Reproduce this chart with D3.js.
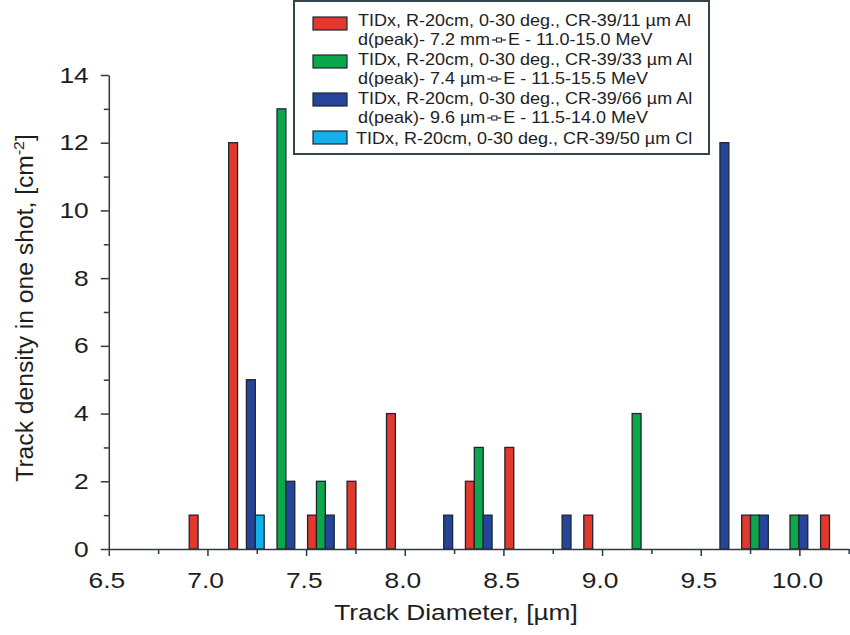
<!DOCTYPE html>
<html>
<head>
<meta charset="utf-8">
<script src="https://cdn.jsdelivr.net/npm/d3@7"></script>
<style>
  body { margin: 0; background: #fff; }
  svg { display: block; font-family: 'Liberation Sans', Arial, sans-serif; }
</style>
</head>
<body>
<div id="chart"></div>
<script>
// Track diameter bins (left edge of each 0.2 µm group)
const bins = [6.9, 7.1, 7.3, 7.5, 7.7, 7.9, 8.1, 8.3, 8.5, 8.7, 8.9, 9.1, 9.3, 9.5, 9.7, 9.9, 10.1]

// Track density per bin, one array per detector
const al11 = [1, 12, 0, 1, 2, 4, 0, 2, 3, 0, 1, 0, 0, 0, 1, 0, 1]
const al33 = [0, 0, 13, 2, 0, 0, 0, 3, 0, 0, 0, 4, 0, 0, 1, 1, 0]
const al66 = [0, 5, 2, 1, 0, 0, 1, 1, 0, 1, 0, 0, 0, 12, 1, 1, 0]
const cl50 = [0, 1, 0, 0, 0, 0, 0, 0, 0, 0, 0, 0, 0, 0, 0, 0, 0]

const seriesKeys = ['al11', 'al33', 'al66', 'cl50']
const seriesValues = [al11, al33, al66, cl50]
const seriesColors = ['#e2392c', '#0aa74b', '#26449b', '#12b0ea']
const seriesLine1 = [
  'TIDx, R-20cm, 0-30 deg., CR-39/11 µm Al',
  'TIDx, R-20cm, 0-30 deg., CR-39/33 µm Al',
  'TIDx, R-20cm, 0-30 deg., CR-39/66 µm Al',
  'TIDx, R-20cm, 0-30 deg., CR-39/50 µm Cl'
]
const seriesLine2a = ['d(peak)- 7.2 mm', 'd(peak)- 7.4 µm', 'd(peak)- 9.6 µm', null]
const seriesLine2b = ['E - 11.0-15.0 MeV', 'E - 11.5-15.5 MeV', 'E - 11.5-14.0 MeV', null]

const xTicks = [6.5, 7.0, 7.5, 8.0, 8.5, 9.0, 9.5, 10.0]
const xMinor = [6.75, 7.25, 7.75, 8.25, 8.75, 9.25, 9.75, 10.25]
const yTicks = [0, 2, 4, 6, 8, 10, 12, 14]
const yMinor = [1, 3, 5, 7, 9, 11, 13]

const W = 850, H = 635
const axisColor = '#2b3940'
const textColor = '#1e1e1e'
const stretch = 1.2   // the original lettering is set wide

const svg = d3.select('#chart').append('svg')
  .attr('width', W).attr('height', H)

const x = d3.scaleLinear().domain([6.5, 10.25]).range([108.8, 848.7])
const y = d3.scaleLinear().domain([0, 14]).range([549, 75])

// bars sit side by side inside each 0.2 µm group
const groupOffset = 0.0075, barWidth = 0.045
const sub = d3.scaleBand().domain(seriesKeys)
  .range([0, barWidth * seriesKeys.length])

const bars = []
seriesKeys.forEach((k, si) => {
  seriesValues[si].forEach((v, bi) => {
    if (v > 0) bars.push({ key: k, color: seriesColors[si], bin: bins[bi], v })
  })
})

const left = d => d.bin + groupOffset + sub(d.key)

svg.append('g').selectAll('rect').data(bars).join('rect')
  .attr('x', d => x(left(d)))
  .attr('width', d => x(left(d) + sub.bandwidth()) - x(left(d)))
  .attr('y', d => y(d.v))
  .attr('height', d => y(0) - y(d.v))
  .attr('fill', d => d.color)
  .attr('stroke', '#1b2630')
  .attr('stroke-width', 1.3)

// x axis
const gx = svg.append('g').attr('transform', `translate(0,${y(0)})`)
gx.call(d3.axisBottom(x).tickValues(xTicks).tickFormat(d3.format('.1f')).tickSize(7).tickSizeOuter(0).tickPadding(16))
gx.append('g').call(d3.axisBottom(x).tickValues(xMinor).tickFormat('').tickSize(5).tickSizeOuter(0))
  .select('.domain').remove()
gx.selectAll('.tick text').attr('transform', `scale(${stretch},1)`).attr('x', -2)

// y axis
const gy = svg.append('g').attr('transform', `translate(${x(6.5)},0)`)
gy.call(d3.axisLeft(y).tickValues(yTicks).tickFormat(d3.format('d')).tickSize(8).tickSizeOuter(0).tickPadding(11))
gy.append('g').call(d3.axisLeft(y).tickValues(yMinor).tickFormat('').tickSize(5).tickSizeOuter(0))
  .select('.domain').remove()
gy.selectAll('.tick text').attr('transform', `scale(${stretch},1)`).attr('x', -20 / stretch)

svg.selectAll('.domain, .tick line')
  .attr('stroke', axisColor).attr('stroke-width', 1.5)
svg.selectAll('.tick text')
  .attr('fill', textColor)
  .style('font-size', '22px')

// axis titles
svg.append('text')
  .attr('transform', `translate(456,620) scale(${stretch - 0.03},1)`)
  .attr('text-anchor', 'middle')
  .attr('fill', textColor)
  .style('font-size', '22.5px')
  .text('Track Diameter, [µm]')

const yl = svg.append('text')
  .attr('transform', 'translate(33,308) rotate(-90) scale(1.05,1)')
  .attr('text-anchor', 'middle')
  .attr('fill', textColor)
  .style('font-size', '23.5px')
yl.append('tspan').text('Track density in one shot, [cm')
yl.append('tspan').text('-2').attr('dy', -9).style('font-size', '15px')
yl.append('tspan').text(']').attr('dy', 9)

// legend
const lg = svg.append('g')
lg.append('rect')
  .attr('x', 294).attr('y', 1).attr('width', 415).attr('height', 153)
  .attr('fill', '#fff').attr('stroke', '#34444c').attr('stroke-width', 2)

const legFont = 16, legScale = 18 / 16
function legText(tx, ty, str) {
  return lg.append('text')
    .attr('transform', `translate(${tx},${ty}) scale(${legScale},1)`)
    .attr('fill', textColor).style('font-size', legFont + 'px')
    .text(str)
}

const entryY = [26, 65, 104, 144]
const swatchY = [17, 55, 93, 131]
seriesKeys.forEach((k, i) => {
  const by = entryY[i]
  lg.append('rect')
    .attr('x', 313).attr('y', swatchY[i]).attr('width', 34).attr('height', 13)
    .attr('fill', seriesColors[i]).attr('stroke', '#1b2630').attr('stroke-width', 1.2)
  legText(i === 3 ? 356 : 358, by, seriesLine1[i])
  if (seriesLine2a[i]) {
    const ly = by + 18.5
    const t1 = legText(358, ly, seriesLine2a[i])
    const sx = 358 + t1.node().getComputedTextLength() * legScale + 2
    const sy = ly - 4.5
    lg.append('line')
      .attr('x1', sx).attr('x2', sx + 14).attr('y1', sy).attr('y2', sy)
      .attr('stroke', textColor).attr('stroke-width', 1.2)
    lg.append('rect')
      .attr('x', sx + 4.5).attr('y', sy - 2).attr('width', 5).attr('height', 4)
      .attr('fill', '#fff').attr('stroke', textColor).attr('stroke-width', 1)
    legText(sx + 16, ly, seriesLine2b[i])
  }
})
</script>
</body>
</html>
